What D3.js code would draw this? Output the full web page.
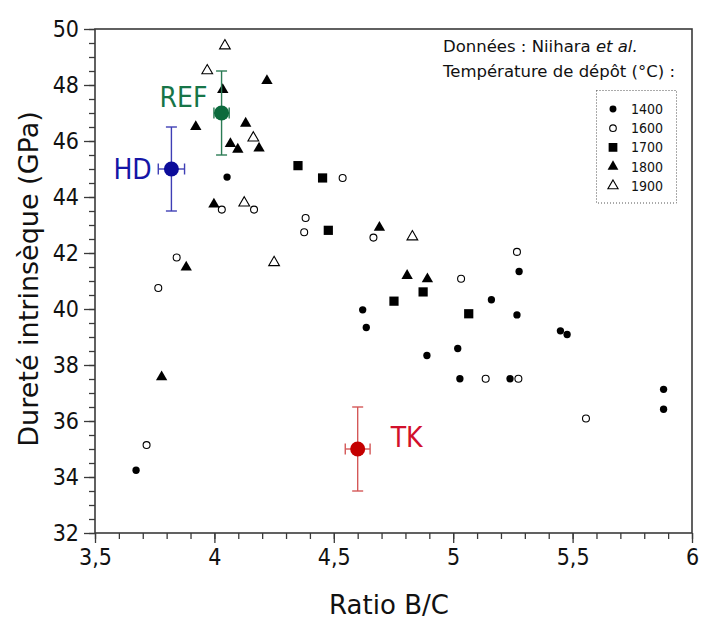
<!DOCTYPE html>
<html>
<head>
<meta charset="utf-8">
<script src="https://cdn.jsdelivr.net/npm/d3@7/dist/d3.min.js"></script>
<style>
  body { margin: 0; background: #fff; }
  svg { display: block; }
</style>
</head>
<body>
<div id="chart"></div>
<script>
// Niihara et al. data, grouped by deposition temperature (B/C ratio, hardness GPa)
const t1400 = [[3.672,34.24],[4.053,44.71],[4.621,39.97],[4.636,39.34],[4.890,38.34],[5.019,38.59],[5.028,37.51],[5.160,40.33],[5.238,37.51],[5.267,39.79],[5.276,41.34],[5.449,39.22],[5.477,39.09],[5.881,37.13],[5.881,36.42]];
const t1600 = [[3.716,35.14],[3.765,40.75],[3.842,41.84],[4.031,43.55],[4.166,43.55],[4.382,43.25],[4.376,42.74],[4.537,44.68],[4.666,42.55],[5.033,41.08],[5.136,37.51],[5.267,42.04],[5.273,37.51],[5.556,36.09]];
const t1700 = [[4.350,45.12],[4.453,44.68],[4.477,42.81],[4.752,40.28],[4.874,40.61],[5.065,39.83]];
const t1800 = [[3.779,37.57],[3.882,41.49],[3.922,46.51],[3.998,43.74],[4.035,47.83],[4.067,45.90],[4.098,45.70],[4.131,46.63],[4.187,45.74],[4.220,48.15],[4.691,42.91],[4.807,41.19],[4.892,41.07]];
const t1900 = [[3.970,48.51],[4.044,49.40],[4.125,43.79],[4.163,46.11],[4.250,41.66],[4.829,42.58]];

const legendLabels = ["1400", "1600", "1700", "1800", "1900"];

// our own samples: [x, y, xErr, yErr]
const samples = ["HD", "REF", "TK"];
const sampleValues = [[3.82, 45, 0.055, 1.5], [4.03, 47, 0.032, 1.5], [4.60, 35, 0.052, 1.5]];

const xTicks = [3.5, 4, 4.5, 5, 5.5, 6];
const yTicks = [32, 34, 36, 38, 40, 42, 44, 46, 48, 50];

const FONT = '"DejaVu Sans Condensed", "DejaVu Sans", sans-serif';
const FONT_WIDE = '"DejaVu Sans", sans-serif';
const W = 702, H = 619;
const plot = { left: 95, right: 692, top: 29, bottom: 533 };

const svg = d3.select("#chart").append("svg")
    .attr("width", W).attr("height", H)
    .style("font-family", FONT);

const x = d3.scaleLinear().domain([3.5, 6]).range([plot.left, plot.right]);
const y = d3.scaleLinear().domain([32, 50]).range([plot.bottom, plot.top]);

const fmt = d => String(d).replace(".", ",");
const frameColor = "#3a3a3a";

// minor ticks
svg.append("g")
    .attr("transform", "translate(0," + plot.bottom + ")")
    .call(d3.axisBottom(x).tickValues(d3.range(35, 61).map(v => v / 10)).tickSize(6).tickFormat(""))
    .call(g => g.select(".domain").remove());
svg.append("g")
    .attr("transform", "translate(" + plot.left + ",0)")
    .call(d3.axisLeft(y).tickValues(d3.range(64, 101).map(v => v / 2)).tickSize(6).tickFormat(""))
    .call(g => g.select(".domain").remove());

// major ticks + labels
const xAxis = svg.append("g")
    .attr("transform", "translate(0," + plot.bottom + ")")
    .call(d3.axisBottom(x).tickValues(xTicks).tickSize(10).tickPadding(6).tickFormat(fmt));
xAxis.select(".domain").remove();
xAxis.selectAll("text").attr("font-size", 23).attr("font-family", FONT).attr("fill", "#111");

const yAxis = svg.append("g")
    .attr("transform", "translate(" + plot.left + ",0)")
    .call(d3.axisLeft(y).tickValues(yTicks).tickSize(11).tickPadding(5).tickFormat(fmt));
yAxis.select(".domain").remove();
yAxis.selectAll("text").attr("font-size", 23).attr("font-family", FONT).attr("fill", "#111");

svg.selectAll(".tick line").attr("stroke", frameColor).attr("stroke-width", 1.3);

// frame
svg.append("rect")
    .attr("x", plot.left).attr("y", plot.top)
    .attr("width", plot.right - plot.left).attr("height", plot.bottom - plot.top)
    .attr("fill", "none").attr("stroke", frameColor).attr("stroke-width", 1.6);

// axis titles
svg.append("text")
    .attr("x", 389).attr("y", 614)
    .attr("text-anchor", "middle").attr("font-size", 26).attr("font-family", FONT_WIDE).attr("fill", "#111")
    .text("Ratio B/C");
svg.append("text")
    .attr("transform", "translate(38,279) rotate(-90)")
    .attr("text-anchor", "middle").attr("font-size", 27).attr("font-family", FONT_WIDE).attr("fill", "#111")
    .text("Dureté intrinsèque (GPa)");

// series
const series = [
    { data: t1400, type: d3.symbolCircle, size: 42, fill: "#000", stroke: "none" },
    { data: t1600, type: d3.symbolCircle, size: 38, fill: "#fff", stroke: "#000" },
    { data: t1700, type: d3.symbolSquare, size: 85, fill: "#000", stroke: "none" },
    { data: t1800, type: d3.symbolTriangle, size: 56, fill: "#000", stroke: "none" },
    { data: t1900, type: d3.symbolTriangle, size: 50, fill: "#fff", stroke: "#000" }
];

series.forEach(s => {
    svg.append("g").selectAll("path")
        .data(s.data)
        .enter().append("path")
        .attr("transform", d => "translate(" + x(d[0]) + "," + y(d[1]) + ")")
        .attr("d", d3.symbol().type(s.type).size(s.size))
        .attr("fill", s.fill)
        .attr("stroke", s.stroke)
        .attr("stroke-width", 1.1);
});

// header text
const header = svg.append("g").attr("font-size", 16.5).attr("font-family", FONT_WIDE).attr("fill", "#111");
const h1 = header.append("text").attr("x", 443).attr("y", 52);
h1.append("tspan").text("Données : Niihara ");
h1.append("tspan").attr("font-style", "italic").text("et al.");
header.append("text").attr("x", 443).attr("y", 77).text("Température de dépôt (°C) :");

// legend
svg.append("rect")
    .attr("x", 596.5).attr("y", 90.5).attr("width", 80).attr("height", 112.5)
    .attr("fill", "none").attr("stroke", "#555").attr("stroke-width", 1)
    .attr("stroke-dasharray", "1,2");

const legend = svg.append("g").selectAll("g")
    .data(series)
    .enter().append("g")
    .attr("transform", (d, i) => "translate(613," + (109 + i * 19.2) + ")");
legend.append("path")
    .attr("d", d => d3.symbol().type(d.type).size(d.size * 0.9)())
    .attr("fill", d => d.fill).attr("stroke", d => d.stroke).attr("stroke-width", 1.1);
legend.append("text")
    .attr("x", 18).attr("y", 5)
    .attr("font-size", 14).attr("fill", "#111")
    .text((d, i) => legendLabels[i]);

// our samples with error bars
const sampleStyle = [
    { mark: "#0c0c9a", bar: "#3f3fb5", label: "#1515a6", dx: -58, dy: 10 },
    { mark: "#0b6a3c", bar: "#2c7c55", label: "#177548", dx: -62, dy: -6 },
    { mark: "#c40000", bar: "#d45858", label: "#d2102c", dx: 33, dy: -2 }
];
const cap = 5.5;

samples.forEach((name, i) => {
    const v = sampleValues[i];
    const st = sampleStyle[i];
    const g = svg.append("g").attr("stroke", st.bar).attr("stroke-width", 1.4);
    const cx = x(v[0]), cy = y(v[1]);
    const y0 = y(v[1] - v[3]), y1 = y(v[1] + v[3]);
    const x0 = x(v[0] - v[2]), x1 = x(v[0] + v[2]);
    g.append("line").attr("x1", cx).attr("x2", cx).attr("y1", y0).attr("y2", y1);
    g.append("line").attr("x1", cx - cap).attr("x2", cx + cap).attr("y1", y0).attr("y2", y0);
    g.append("line").attr("x1", cx - cap).attr("x2", cx + cap).attr("y1", y1).attr("y2", y1);
    g.append("line").attr("x1", x0).attr("x2", x1).attr("y1", cy).attr("y2", cy);
    g.append("line").attr("x1", x0).attr("x2", x0).attr("y1", cy - cap).attr("y2", cy + cap);
    g.append("line").attr("x1", x1).attr("x2", x1).attr("y1", cy - cap).attr("y2", cy + cap);
    svg.append("circle").attr("cx", cx).attr("cy", cy).attr("r", 7.5).attr("fill", st.mark);
    svg.append("text")
        .attr("x", cx + st.dx).attr("y", cy + st.dy)
        .attr("font-size", 28).attr("fill", st.label)
        .text(name);
});
</script>
</body>
</html>
